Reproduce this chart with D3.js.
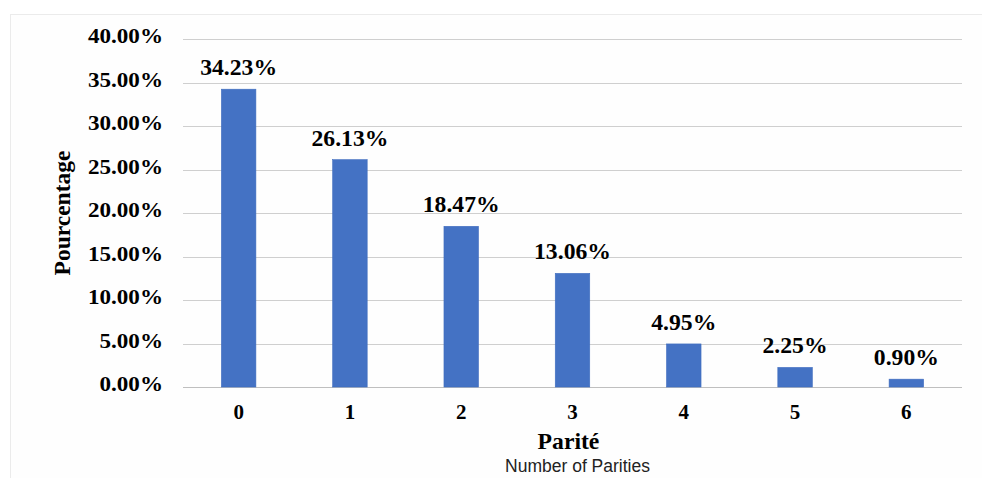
<!DOCTYPE html>
<html>
<head>
<meta charset="utf-8">
<script src="https://cdn.jsdelivr.net/npm/d3@7"></script>
<style>
  html, body { margin: 0; padding: 0; background: #ffffff; }
  svg { display: block; }
</style>
</head>
<body>
<svg id="chart" width="982" height="478"></svg>
<script>
// Distribution of women by number of parities
const categories = ["0", "1", "2", "3", "4", "5", "6"];
const percentages = [34.23, 26.13, 18.47, 13.06, 4.95, 2.25, 0.90];
const yTicks = [0, 5, 10, 15, 20, 25, 30, 35, 40];

const width = 982, height = 478;
const margin = { left: 183, right: 20, top: 39, bottom: 91 };
const svg = d3.select("#chart");

// Chart frame
svg.append("rect")
  .attr("x", 10.5).attr("y", 14.5)
  .attr("width", width).attr("height", height)
  .attr("fill", "#fefefe")
  .attr("stroke", "#ebebeb").attr("stroke-width", 1);

const x = d3.scaleBand()
  .domain(categories)
  .range([margin.left, width - margin.right])
  .paddingInner(0.69).paddingOuter(0.345);

const y = d3.scaleLinear()
  .domain([0, 40])
  .range([height - margin.bottom, margin.top]);

const serif = "'Liberation Serif', 'Times New Roman', serif";
const stretch = 1.1;

// Gridlines
svg.append("g")
  .selectAll("line")
  .data(yTicks)
  .join("line")
  .attr("x1", margin.left).attr("x2", width - margin.right)
  .attr("y1", d => Math.round(y(d)) + 0.5).attr("y2", d => Math.round(y(d)) + 0.5)
  .attr("stroke", d => d === 0 ? "#bfbfbf" : "#cfcfcf")
  .attr("stroke-width", 1);

// Y axis labels
const yAxis = d3.axisLeft(y).tickValues(yTicks)
  .tickFormat(d => d3.format(".2f")(d) + "%").tickSize(0).tickPadding(0);
const gy = svg.append("g").attr("transform", `translate(${margin.left - 20},0)`).call(yAxis);
gy.select(".domain").remove();
gy.selectAll(".tick text")
  .attr("font-family", serif).attr("font-weight", "bold").attr("font-size", 21)
  .attr("fill", "#000").attr("dy", null).attr("y", 3.5).attr("x", 0)
  .attr("transform", `scale(${stretch},1)`);

// Bars
svg.append("g")
  .selectAll("rect")
  .data(percentages)
  .join("rect")
  .attr("x", (d, i) => x(categories[i]))
  .attr("y", d => y(d))
  .attr("width", x.bandwidth())
  .attr("height", d => y(0) - y(d))
  .attr("fill", "#4472c4")
  .attr("stroke", "#3f6dbf").attr("stroke-width", 0.6);

// Value labels
svg.append("g")
  .selectAll("text")
  .data(percentages)
  .join("text")
  .attr("transform", (d, i) =>
    `translate(${x(categories[i]) + x.bandwidth() / 2},${y(d) - 14}) scale(1.03,1)`)
  .attr("text-anchor", "middle")
  .attr("font-family", serif).attr("font-weight", "bold").attr("font-size", 23)
  .attr("fill", "#000")
  .text(d => d.toFixed(2) + "%");

// X axis labels
const xAxis = d3.axisBottom(x).tickSize(0).tickPadding(0);
const gx = svg.append("g").attr("transform", `translate(0,${y(0)})`).call(xAxis);
gx.select(".domain").remove();
gx.selectAll(".tick text")
  .attr("font-family", serif).attr("font-weight", "bold").attr("font-size", 21)
  .attr("fill", "#000").attr("dy", null).attr("y", 32);

// Axis titles
const xCenter = (margin.left + width - margin.right) / 2;
svg.append("text")
  .attr("transform", `translate(${xCenter - 4},${449}) scale(1.03,1)`)
  .attr("text-anchor", "middle")
  .attr("font-family", serif).attr("font-weight", "bold").attr("font-size", 23)
  .attr("fill", "#000").text("Parité");

svg.append("text")
  .attr("transform", `translate(${xCenter + 5},${472})`)
  .attr("text-anchor", "middle")
  .attr("font-family", "'Liberation Sans', Arial, sans-serif").attr("font-size", 17.5)
  .attr("fill", "#222").text("Number of Parities");

svg.append("text")
  .attr("transform", `translate(70,213) rotate(-90)`)
  .attr("text-anchor", "middle")
  .attr("font-family", serif).attr("font-weight", "bold").attr("font-size", 23.5)
  .attr("fill", "#000").text("Pourcentage");
</script>
</body>
</html>
